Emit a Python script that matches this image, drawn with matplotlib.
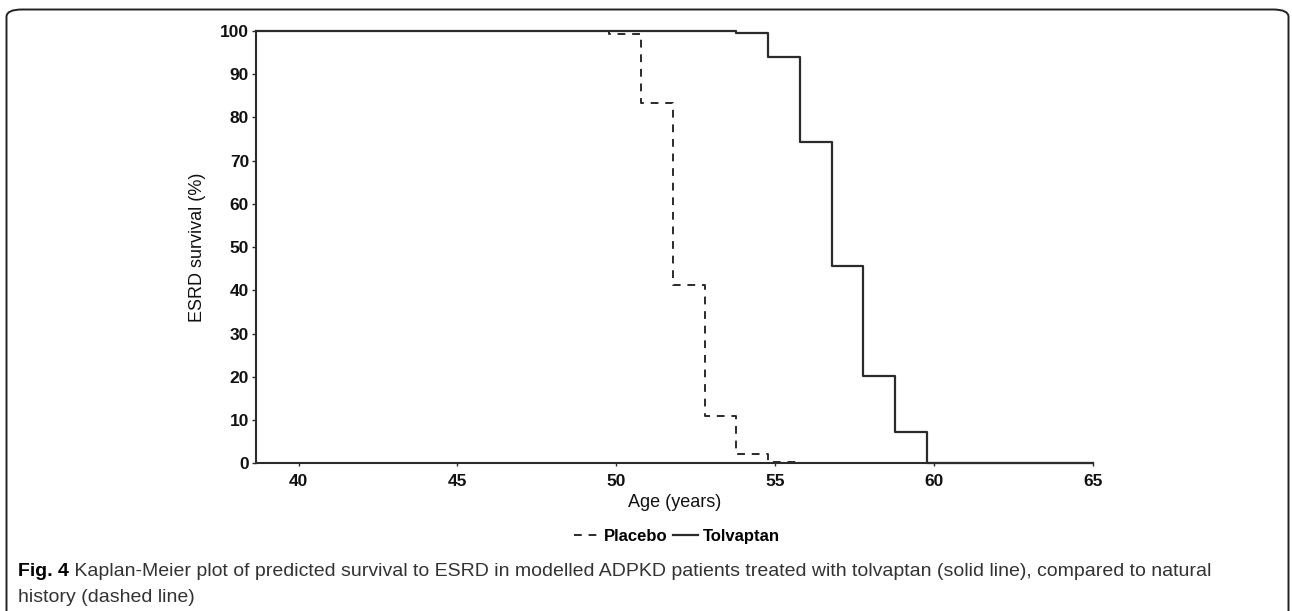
import matplotlib
matplotlib.use("Agg")
import matplotlib.pyplot as plt
from matplotlib.patches import FancyBboxPatch

# Kaplan-Meier step curves (age in years, survival in %)
tolvaptan_age = [38.66, 53.78, 54.78, 55.78, 56.78, 57.78, 58.78, 59.78, 65.0]
tolvaptan_surv = [100, 99.5, 93.9, 74.4, 45.7, 20.3, 7.2, 0, 0]
placebo_age = [38.66, 49.78, 50.78, 51.78, 52.78, 53.78, 54.78, 55.78]
placebo_surv = [100, 99.2, 83.4, 41.2, 11.0, 2.1, 0.4, 0]

x_ticks = [40, 45, 50, 55, 60, 65]
y_ticks = list(range(0, 101, 10))

plt.rcParams['font.family'] = ['Liberation Sans', 'DejaVu Sans']

fig = plt.figure(figsize=(12.92, 6.11), dpi=100)
ax = fig.add_axes([0.1981, 0.2417, 0.6478, 0.7075])

line_col = '#2b2b2b'
ax.plot(placebo_age, placebo_surv, drawstyle='steps-post', color=line_col,
        lw=1.4, dashes=(4, 3.5), label='Placebo', clip_on=False)
ax.plot(tolvaptan_age, tolvaptan_surv, drawstyle='steps-post', color=line_col,
        lw=1.6, label='Tolvaptan', clip_on=False)

ax.set_xlim(38.66, 65)
ax.set_ylim(0, 100)
ax.set_xticks(x_ticks)
ax.set_yticks(y_ticks)
for s in ['top', 'right']:
    ax.spines[s].set_visible(False)
for s in ['left', 'bottom']:
    ax.spines[s].set_linewidth(1.5)
    ax.spines[s].set_color(line_col)
ax.tick_params(axis='y', length=3, width=1, color=line_col, pad=2, labelsize=12.5)
ax.tick_params(axis='x', length=2, width=1, color=line_col, pad=6, labelsize=12.5)
for lab in ax.get_xticklabels() + ax.get_yticklabels():
    lab.set_fontweight('bold')
    lab.set_color('#111111')

ax.set_xlabel('Age (years)', fontsize=13, labelpad=3, color='#111111')
ax.set_ylabel('ESRD survival (%)', fontsize=13, labelpad=10, color='#111111')

fig.legend(loc='center', bbox_to_anchor=(0.524, 0.1227), ncol=2, frameon=False,
           prop={'weight': 'bold', 'size': 12}, handlelength=1.5,
           handletextpad=0.3, columnspacing=0.3)

# caption
cap_font = ['Liberation Sans', 'DejaVu Sans']
t1 = fig.text(18 / 1292, 1 - 571 / 611, 'Fig. 4', fontsize=14, fontweight='bold',
              family=cap_font, va='center', ha='left')
ax.annotate(' Kaplan-Meier plot of predicted survival to ESRD in modelled ADPKD patients '
            'treated with tolvaptan (solid line), compared to natural',
            xy=(1, 0), xycoords=t1, va='bottom', ha='left', fontsize=14,
            family=cap_font, color='#333333', annotation_clip=False)
fig.text(18 / 1292, 1 - 597 / 611, 'history (dashed line)', fontsize=14,
         family=cap_font, va='center', ha='left', color='#333333')

# rounded panel border
fig.patches.append(FancyBboxPatch((6.5 / 1292, -0.1), 1282 / 1292, 1.1 - 9.5 / 611,
                                  boxstyle='round,pad=0,rounding_size=0.012',
                                  transform=fig.transFigure, fill=False,
                                  edgecolor='#222222', lw=1.4, figure=fig))

fig.savefig('out.png', dpi=100)
